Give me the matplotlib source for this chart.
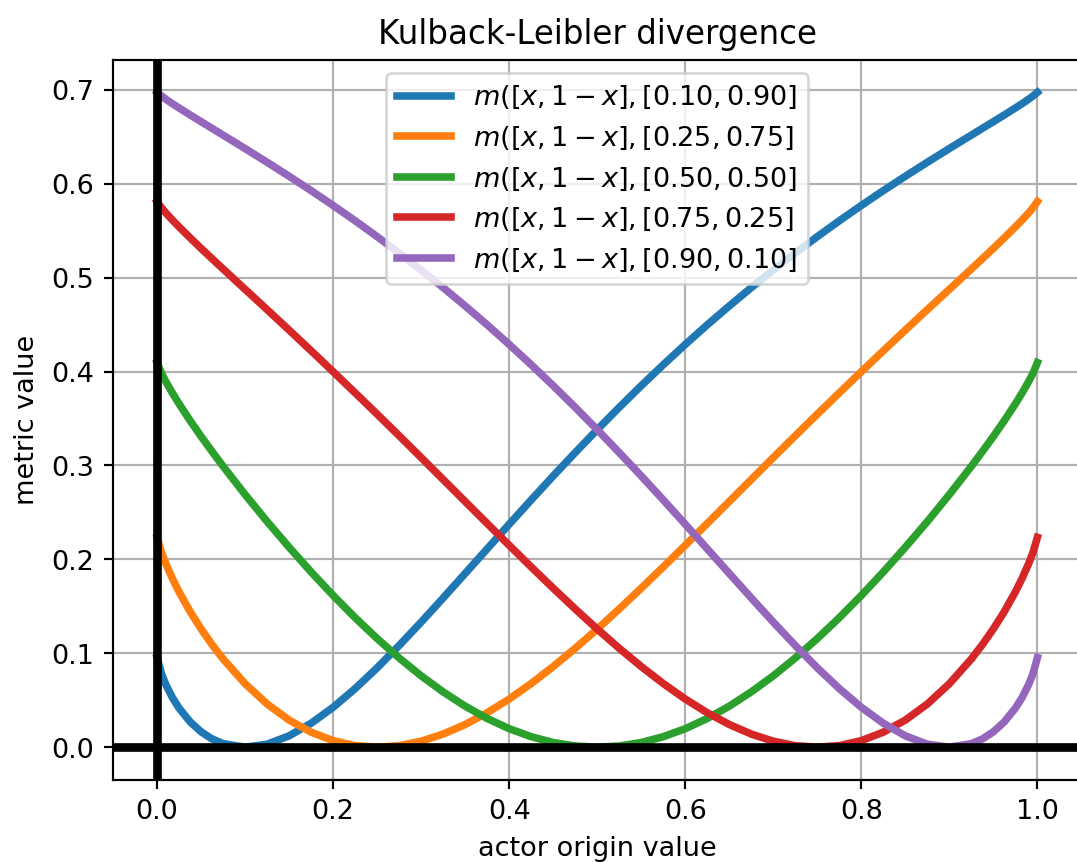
import matplotlib.pyplot as plt

# valores de x (origen del actor)
x_vals = [0.0, 0.005, 0.01, 0.0175, 0.025, 0.0375, 0.05, 0.0625, 0.075, 0.1,
          0.125, 0.15, 0.175, 0.2, 0.225, 0.25, 0.275, 0.3, 0.325, 0.35, 0.375,
          0.4, 0.425, 0.45, 0.475, 0.5, 0.525, 0.55, 0.575, 0.6, 0.625, 0.65,
          0.675, 0.7, 0.725, 0.75, 0.775, 0.8, 0.825, 0.85, 0.875, 0.9, 0.925,
          0.9375, 0.95, 0.9625, 0.975, 0.9825, 0.99, 0.995, 1.0]

# distribuciones de referencia
referencias = [0.10, 0.25, 0.50, 0.75, 0.90]

m_010 = [0.0953, 0.0782, 0.0666, 0.0527, 0.0416, 0.0271, 0.0164, 0.0088, 0.0038,
         0.0, 0.0032, 0.0121, 0.0255, 0.0425, 0.0624, 0.0845, 0.1083, 0.1332,
         0.1589, 0.1850, 0.2112, 0.2374, 0.2633, 0.2888, 0.3137, 0.3381, 0.3618,
         0.3849, 0.4072, 0.4288, 0.4497, 0.4698, 0.4893, 0.5080, 0.5261, 0.5436,
         0.5605, 0.5768, 0.5926, 0.6079, 0.6228, 0.6374, 0.6517, 0.6589, 0.6660,
         0.6732, 0.6806, 0.6851, 0.6899, 0.6933, 0.6972]

m_025 = [0.2234, 0.2074, 0.1953, 0.1795, 0.1654, 0.1445, 0.1260, 0.1092, 0.0940,
         0.0676, 0.0460, 0.0289, 0.0160, 0.0070, 0.0017, 0.0, 0.0016, 0.0064,
         0.0140, 0.0242, 0.0367, 0.0513, 0.0678, 0.0859, 0.1053, 0.1258, 0.1472,
         0.1693, 0.1919, 0.2150, 0.2382, 0.2616, 0.2850, 0.3084, 0.3316, 0.3546,
         0.3773, 0.3998, 0.4221, 0.4441, 0.4659, 0.4875, 0.5092, 0.5201, 0.5311,
         0.5424, 0.5540, 0.5612, 0.5688, 0.5744, 0.5809]

m_050 = [0.4095, 0.3982, 0.3892, 0.3770, 0.3656, 0.3478, 0.3309, 0.3148, 0.2991,
         0.2690, 0.2403, 0.2129, 0.1866, 0.1616, 0.1379, 0.1157, 0.0950, 0.0760,
         0.0589, 0.0437, 0.0306, 0.0197, 0.0112, 0.0050, 0.0013, 0.0, 0.0013,
         0.0050, 0.0112, 0.0197, 0.0306, 0.0437, 0.0589, 0.0760, 0.0950, 0.1157,
         0.1379, 0.1616, 0.1866, 0.2129, 0.2403, 0.2690, 0.2991, 0.3148, 0.3309,
         0.3478, 0.3656, 0.3770, 0.3892, 0.3982, 0.4095]

m_075 = [0.5809, 0.5744, 0.5688, 0.5612, 0.5540, 0.5424, 0.5311, 0.5201, 0.5092,
         0.4875, 0.4659, 0.4441, 0.4221, 0.3998, 0.3773, 0.3546, 0.3316, 0.3084,
         0.2850, 0.2616, 0.2382, 0.2150, 0.1919, 0.1693, 0.1472, 0.1258, 0.1053,
         0.0859, 0.0678, 0.0513, 0.0367, 0.0242, 0.0140, 0.0064, 0.0016, 0.0,
         0.0017, 0.0070, 0.0160, 0.0289, 0.0460, 0.0676, 0.0940, 0.1092, 0.1260,
         0.1445, 0.1654, 0.1795, 0.1953, 0.2074, 0.2234]

m_090 = [0.6972, 0.6933, 0.6899, 0.6851, 0.6806, 0.6732, 0.6660, 0.6589, 0.6517,
         0.6374, 0.6228, 0.6079, 0.5926, 0.5768, 0.5605, 0.5436, 0.5261, 0.5080,
         0.4893, 0.4698, 0.4497, 0.4288, 0.4072, 0.3849, 0.3618, 0.3381, 0.3137,
         0.2888, 0.2633, 0.2374, 0.2112, 0.1850, 0.1589, 0.1332, 0.1083, 0.0845,
         0.0624, 0.0425, 0.0255, 0.0121, 0.0032, 0.0, 0.0038, 0.0088, 0.0164,
         0.0271, 0.0416, 0.0527, 0.0666, 0.0782, 0.0953]

series = [m_010, m_025, m_050, m_075, m_090]

DPI = 195
fig = plt.figure(figsize=(1077.4 / DPI, 862.4 / DPI), dpi=DPI)
ax = fig.add_axes([113 / 1077, 1 - 780 / 862, (1081 - 113) / 1077, (780 - 60) / 862])

for p, valores in zip(referencias, series):
    etiqueta = f"$m([x, 1-x], [{p:.2f}, {1 - p:.2f}]$"
    ax.plot(x_vals, valores, linewidth=2.8, label=etiqueta)

# ejes en cero
ax.axhline(0, color="black", linewidth=3.2)
ax.axvline(0, color="black", linewidth=3.2)

# el borde derecho queda fuera de la imagen
ax.spines["right"].set_visible(False)

ax.set_xlim(-0.05, 1.05)
ax.set_xlabel("actor origin value")
ax.set_ylabel("metric value")
ax.set_title("Kulback-Leibler divergence")
ax.grid(True)
ax.legend(loc="upper center")

plt.savefig("out.png", dpi=DPI)
